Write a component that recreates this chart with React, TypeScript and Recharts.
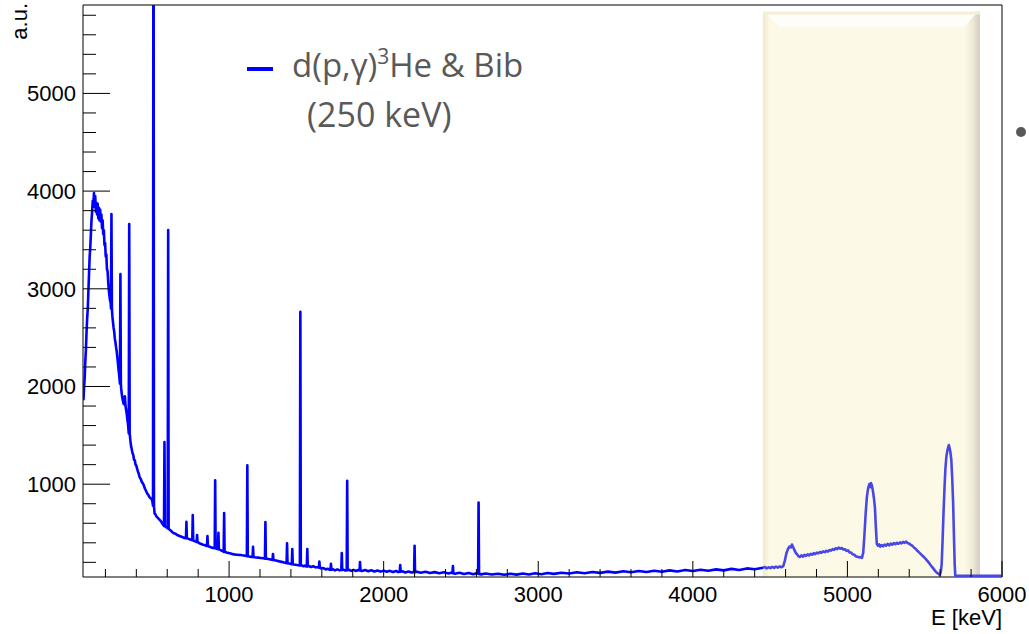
import { LineChart, Line, XAxis, YAxis, ReferenceArea, Legend } from "recharts"

// gamma spectrum (E in keV, counts in a.u.)
const mainContinuum: [number, number][] = [
  [58, 1860], [62, 1990], [66, 2090], [70, 2260], [74, 2380], [78, 2560], [82, 2700], [86, 2800],
  [90, 2980], [94, 3150], [98, 3330], [102, 3420], [106, 3560], [110, 3700], [114, 3790], [118, 3900],
  [122, 3860], [126, 3980], [130, 3840], [134, 3950], [138, 3790], [142, 3880], [146, 3760], [150, 3870],
  [154, 3720], [158, 3830], [162, 3700], [166, 3810], [170, 3690], [174, 3760], [178, 3620], [182, 3700],
  [186, 3560], [190, 3600], [194, 3450], [198, 3470], [202, 3330], [206, 3350], [210, 3200], [214, 3180],
  [218, 3070], [222, 2990], [226, 2930], [230, 2880], [234, 2860], [245, 2720], [249, 2660], [253, 2600],
  [257, 2560], [261, 2490], [265, 2450], [269, 2400], [273, 2360], [277, 2300], [281, 2240], [285, 2170],
  [289, 2120], [293, 2060], [302, 1980], [306, 1920], [310, 1880], [314, 1850], [318, 1820], [322, 1870],
  [326, 1900], [330, 1800], [334, 1760], [338, 1720], [342, 1660], [346, 1620], [350, 1560], [358, 1480],
  [362, 1440], [366, 1390], [370, 1360], [375, 1320], [380, 1300], [385, 1250], [390, 1245], [395, 1200],
  [400, 1190], [405, 1160], [410, 1130], [415, 1110], [420, 1080], [425, 1060], [430, 1050], [436, 1020],
  [442, 1010], [448, 990], [454, 960], [460, 940], [466, 920], [472, 900], [478, 890], [484, 870],
  [490, 860], [496, 850], [502, 840], [507, 820], [518, 700], [524, 690], [530, 670], [536, 660],
  [542, 650], [548, 640], [554, 630], [560, 620], [566, 600], [572, 590], [578, 575], [588, 565],
  [594, 560], [600, 550], [612, 540], [618, 530], [624, 525], [632, 510], [640, 500], [648, 495],
  [656, 490], [664, 480], [672, 475], [680, 470], [688, 465], [696, 460], [704, 455], [712, 450],
  [720, 448], [730, 445], [738, 440], [746, 435], [754, 432], [760, 430], [772, 420], [780, 415],
  [788, 410], [800, 405], [808, 395], [816, 390], [824, 385], [832, 380], [840, 378], [848, 372],
  [856, 370], [866, 365], [874, 360], [882, 355], [890, 350], [898, 348], [906, 345], [918, 340],
  [926, 336], [938, 330], [946, 325], [954, 318], [962, 312], [975, 306], [985, 300], [995, 296],
  [1005, 292], [1015, 288], [1025, 284], [1035, 281], [1045, 279], [1055, 278], [1065, 276], [1075, 275],
  [1085, 272], [1095, 270], [1105, 268], [1113, 266], [1125, 262], [1135, 258], [1145, 256], [1165, 252],
  [1175, 250], [1190, 248], [1205, 245], [1220, 242], [1230, 240], [1245, 236], [1260, 232], [1275, 228],
  [1295, 222], [1310, 216], [1325, 210], [1340, 205], [1355, 198], [1368, 193], [1390, 188], [1400, 184],
  [1420, 178], [1430, 175], [1440, 172], [1450, 170], [1470, 170], [1480, 160], [1490, 166], [1498, 158],
  [1515, 162], [1530, 152], [1545, 160], [1560, 148], [1575, 152], [1595, 138], [1610, 142], [1625, 128],
  [1640, 134], [1652, 122], [1670, 130], [1685, 118], [1700, 128], [1715, 118], [1740, 126], [1752, 116],
  [1775, 124], [1790, 113], [1805, 123], [1820, 112], [1835, 122], [1860, 111], [1880, 121], [1900, 109],
  [1920, 119], [1940, 107], [1960, 117], [1980, 105], [2000, 115], [2020, 103], [2040, 113], [2060, 101],
  [2080, 111], [2095, 100], [2120, 108], [2140, 97], [2160, 107], [2180, 96], [2215, 104], [2240, 93],
  [2270, 103], [2300, 91], [2330, 100], [2360, 88], [2390, 98], [2420, 86], [2440, 95], [2460, 84],
  [2490, 93], [2520, 81], [2550, 90], [2580, 79], [2600, 88], [2630, 77], [2660, 86], [2700, 75],
  [2740, 84], [2780, 73], [2820, 83], [2860, 74], [2900, 85], [2940, 76], [2980, 88], [3020, 79],
  [3060, 91], [3100, 82], [3150, 94], [3200, 86], [3250, 99], [3300, 89], [3350, 102], [3400, 92],
  [3450, 105], [3500, 95], [3550, 108], [3600, 98], [3650, 111], [3700, 101], [3750, 114], [3800, 104],
  [3850, 118], [3900, 107], [3950, 121], [4000, 111], [4050, 124], [4100, 114], [4150, 128], [4200, 118],
  [4250, 133], [4300, 122], [4350, 138], [4400, 130], [4454, 145],
]

// narrow lines: [energy, peak height, continuum under the line]
const peaks: [number, number, number][] = [
  [239, 3765, 2800], [297, 3150, 2030], [354, 3663, 1520], [511, 9000, 780], [582, 1432, 572],
  [606, 3602, 548], [724, 615, 447], [765, 684, 428], [793, 480, 408], [860, 469, 368],
  [910, 1041, 344], [931, 503, 334], [968, 704, 308], [1118, 1194, 264], [1155, 360, 254],
  [1235, 612, 238], [1284, 286, 225], [1375, 395, 191], [1409, 337, 181], [1461, 2765, 168],
  [1506, 337, 159], [1584, 207, 145], [1659, 184, 125], [1729, 296, 123], [1764, 1034, 120],
  [1847, 204, 117], [2107, 173, 105], [2200, 370, 100], [2448, 163, 90], [2614, 813, 82],
]

// part of the spectrum behind the highlight box
const boxSpectrum: [number, number][] = [
  [4454, 145], [4466, 152], [4478, 138], [4490, 150], [4502, 141], [4514, 155], [4526, 143], [4538, 156],
  [4550, 146], [4562, 158], [4574, 150], [4585, 162], [4595, 215], [4605, 290], [4615, 335], [4625, 362],
  [4634, 352], [4641, 382], [4648, 360], [4656, 330], [4665, 300], [4674, 282], [4683, 262], [4693, 255],
  [4702, 272], [4712, 258], [4722, 276], [4732, 266], [4742, 282], [4752, 270], [4762, 288], [4772, 278],
  [4782, 294], [4792, 284], [4802, 300], [4812, 292], [4822, 306], [4832, 298], [4844, 312], [4854, 304],
  [4864, 318], [4874, 310], [4884, 326], [4894, 320], [4904, 336], [4914, 328], [4924, 344], [4934, 336],
  [4944, 350], [4954, 340], [4964, 346], [4974, 332], [4984, 334], [4994, 318], [5004, 322], [5014, 302],
  [5024, 300], [5034, 282], [5044, 278], [5054, 262], [5064, 258], [5074, 250], [5084, 254], [5094, 245],
  [5102, 296], [5110, 480], [5118, 700], [5126, 870], [5134, 960], [5142, 1000], [5148, 970], [5152, 1012],
  [5158, 990], [5165, 930], [5172, 850], [5178, 760], [5184, 560], [5190, 390], [5197, 370], [5204, 384],
  [5212, 360], [5220, 376], [5230, 364], [5240, 382], [5250, 370], [5260, 388], [5270, 374], [5280, 392],
  [5290, 380], [5300, 396], [5310, 386], [5320, 400], [5330, 390], [5340, 404], [5350, 394], [5360, 410],
  [5370, 400], [5380, 412], [5390, 396], [5400, 392], [5410, 378], [5420, 370], [5430, 352], [5440, 340],
  [5450, 322], [5460, 308], [5470, 292], [5480, 276], [5490, 262], [5500, 246], [5510, 228], [5520, 210],
  [5530, 190], [5540, 168], [5550, 148], [5560, 128], [5570, 108], [5580, 92], [5590, 80], [5598, 70],
  [5605, 110], [5610, 190], [5616, 440], [5622, 720], [5628, 960], [5634, 1160], [5640, 1280], [5646, 1340],
  [5652, 1380], [5656, 1400], [5661, 1370], [5666, 1330], [5672, 1250], [5678, 1060], [5684, 800], [5689, 480],
  [5694, 180], [5698, 62], [6000, 62],
]

const xTicks = [
  200, 400, 600, 800, 1000, 1200, 1400, 1600, 1800, 2000, 2200, 2400, 2600, 2800, 3000,
  3200, 3400, 3600, 3800, 4000, 4200, 4400, 4600, 4800, 5000, 5200, 5400, 5600, 5800, 6000,
]
const yTicks = [
  200, 400, 600, 800, 1000, 1200, 1400, 1600, 1800, 2000, 2200, 2400, 2600, 2800, 3000,
  3200, 3400, 3600, 3800, 4000, 4200, 4400, 4600, 4800, 5000, 5200, 5400, 5600, 5800,
]

const xDomain = [55, 6000]
const yDomain = [50, 5905]
const box = { x1: 4454, x2: 5857, y1: 50, y2: 5837 }

const rows: { e: number; main?: number; box?: number }[] = []
for (const [e, c] of mainContinuum) {
  if (!peaks.some((p) => Math.abs(p[0] - e) <= 4)) rows.push({ e, main: c })
}
for (const [e, h, b] of peaks) {
  rows.push({ e: e - 3, main: b }, { e, main: h }, { e: e + 3, main: b })
}
for (const [e, c] of boxSpectrum) rows.push({ e, box: c })
rows.sort((a, b) => a.e - b.e)

const axisFont = "'Liberation Sans', Arial, Helvetica, sans-serif"

function XTick({ x, y, payload }: any) {
  const major = payload.value % 1000 === 0
  return (
    <g>
      <line x1={x} x2={x} y1={y} y2={y - (major ? 16 : 8)} stroke="#000" />
      {major && (
        <text x={x} y={y + 25} textAnchor="middle" fontFamily={axisFont} fontSize={22} fill="#000">
          {payload.value}
        </text>
      )}
    </g>
  )
}

function YTick({ x, y, payload }: any) {
  const major = payload.value % 1000 === 0
  return (
    <g>
      <line x1={x} x2={x + (major ? 27 : 13)} y1={y} y2={y} stroke="#000" />
      {major && (
        <text x={x - 7} y={y + 8} textAnchor="end" fontFamily={axisFont} fontSize={22} fill="#000">
          {payload.value}
        </text>
      )}
    </g>
  )
}

function BoxShape({ x, y, width, height }: any) {
  return (
    <g>
      <defs>
        <linearGradient id="boxShade" x1="0" y1="0" x2="1" y2="0">
          <stop offset="0" stopColor="#f1e9c9" />
          <stop offset="0.03" stopColor="#fdf9e7" />
          <stop offset="0.93" stopColor="#fdf9e7" />
          <stop offset="0.965" stopColor="#f0ebd6" />
          <stop offset="1" stopColor="#d2cdbf" />
        </linearGradient>
      </defs>
      <rect x={x} y={y} width={width} height={height} fill="url(#boxShade)" />
      <polygon
        points={`${x + 2},${y} ${x + width - 2},${y} ${x + width - 16},${y + 15} ${x + 16},${y + 15}`}
        fill="#fefdf8"
      />
      <rect x={x} y={y} width={width} height={3} fill="#f4eed6" />
    </g>
  )
}

function SpectrumLegend() {
  return (
    <svg width={320} height={100}>
      <line x1={17} x2={43} y1={29} y2={29} stroke="#0000ff" strokeWidth={4} />
      <text x={62} y={37} fontFamily="'Open Sans', sans-serif" fontSize={33} fill="#595959">
        d(p,γ)<tspan fontSize={21} dy={-13}>3</tspan>
        <tspan dy={13}>He &amp; Bib</tspan>
      </text>
      <text x={77} y={87} fontFamily="'Open Sans', sans-serif" fontSize={34} fill="#595959">
        (250 keV)
      </text>
    </svg>
  )
}

export default function App() {
  return (
    <div style={{ position: "absolute", left: 0, top: 0, width: 1029, height: 634, background: "#fff" }}>
      <LineChart width={1029} height={634} data={rows} margin={{ top: 5, right: 27, bottom: 0, left: 0 }}>
        <ReferenceArea {...box} shape={<BoxShape />} />
        <XAxis
          type="number"
          dataKey="e"
          domain={xDomain}
          allowDataOverflow
          ticks={xTicks}
          interval={0}
          height={57}
          tickSize={0}
          tickMargin={0}
          axisLine={false}
          tick={(p: any) => <XTick {...p} />}
          label={(p: any) => {
            const vb = p.viewBox
            return (
              <text x={vb.x + vb.width} y={vb.y + 48} textAnchor="end" fontFamily={axisFont} fontSize={22} fill="#000">
                E [keV]
              </text>
            )
          }}
        />
        <YAxis
          type="number"
          domain={yDomain}
          allowDataOverflow
          ticks={yTicks}
          interval={0}
          width={83}
          tickSize={0}
          tickMargin={0}
          axisLine={false}
          tick={(p: any) => <YTick {...p} />}
          label={(p: any) => {
            const vb = p.viewBox
            return (
              <text
                transform={`translate(${vb.x + 27},${vb.y - 2}) rotate(-90)`}
                textAnchor="end"
                fontFamily={axisFont}
                fontSize={22}
                fill="#000"
              >
                a.u.
              </text>
            )
          }}
        />
        <Line
          dataKey="main"
          type="linear"
          stroke="#0000ff"
          strokeWidth={2.6}
          strokeLinejoin="round"
          dot={false}
          activeDot={false}
          isAnimationActive={false}
          legendType="line"
        />
        <Line
          dataKey="box"
          type="linear"
          stroke="#4848e6"
          strokeWidth={2.6}
          strokeLinejoin="round"
          dot={false}
          activeDot={false}
          isAnimationActive={false}
        />
        <ReferenceArea
          x1={xDomain[0]}
          x2={xDomain[1]}
          y1={yDomain[0]}
          y2={yDomain[1]}
          fill="none"
          stroke="#000"
          strokeWidth={1}
        />
        <Legend
          verticalAlign="middle"
          align="center"
          layout="horizontal"
          wrapperStyle={{ left: 230, top: 40, width: 320, height: 100 }}
          content={() => <SpectrumLegend />}
        />
      </LineChart>
      <div
        style={{
          position: "absolute",
          left: 1016,
          top: 127,
          width: 10,
          height: 10,
          borderRadius: "50%",
          background: "#595959",
        }}
      />
    </div>
  )
}
